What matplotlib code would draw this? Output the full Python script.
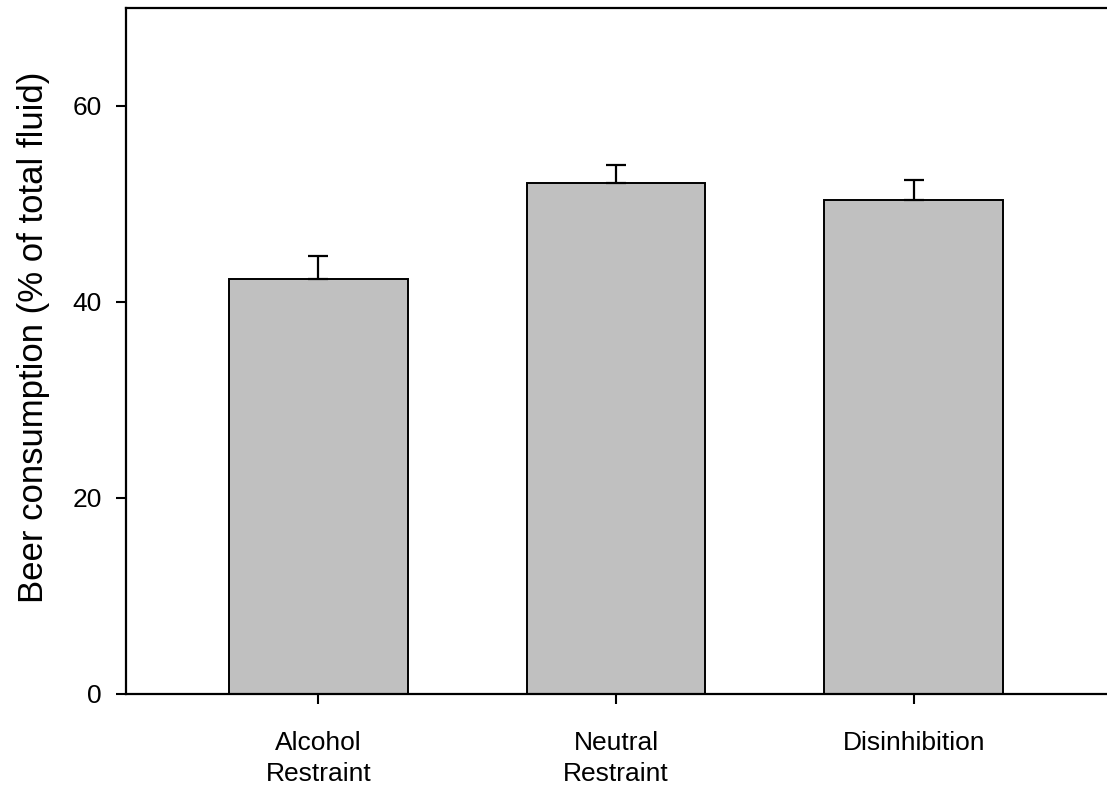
import matplotlib
matplotlib.use("Agg")
import matplotlib.pyplot as plt
import numpy as np

plt.rcParams['font.family'] = ['Liberation Sans', 'DejaVu Sans']

groups = ["Alcohol\nRestraint", "Neutral\nRestraint", "Disinhibition"]
means = [42.3, 52.1, 50.4]
sem = [2.4, 1.9, 2.0]

fig = plt.figure(figsize=(11.07, 7.89), dpi=100)
W, H = 1107.0, 789.0
ax = fig.add_axes([125.7 / W, (H - 693.7) / H, (1122 - 125.7) / W, (693.7 - 8) / H])

x = np.arange(1, len(groups) + 1)
ax.bar(x, means, width=0.6, color='#c0c0c0', edgecolor='black', linewidth=1.4, zorder=2)
ax.errorbar(x, means, yerr=[np.zeros(len(sem)), sem], fmt='none', ecolor='black',
            elinewidth=1.6, capsize=7.2, capthick=1.6, zorder=3)

ax.set_xlim(0.3525, 3.7)
ax.set_ylim(0, 70)
ax.set_yticks([0, 20, 40, 60])
ax.set_xticks(x)
ax.set_xticklabels(groups, fontsize=19, linespacing=1.35)
ax.tick_params(axis='y', labelsize=19, direction='out', length=7.2, width=1.5, pad=10)
ax.tick_params(axis='x', direction='out', length=7.2, width=1.5, pad=20)
ax.set_ylabel("Beer consumption (% of total fluid)", fontsize=25)
ax.yaxis.set_label_coords(-0.076, 0.52)

for s in ax.spines.values():
    s.set_linewidth(1.6)

fig.savefig("out.png", dpi=100)
